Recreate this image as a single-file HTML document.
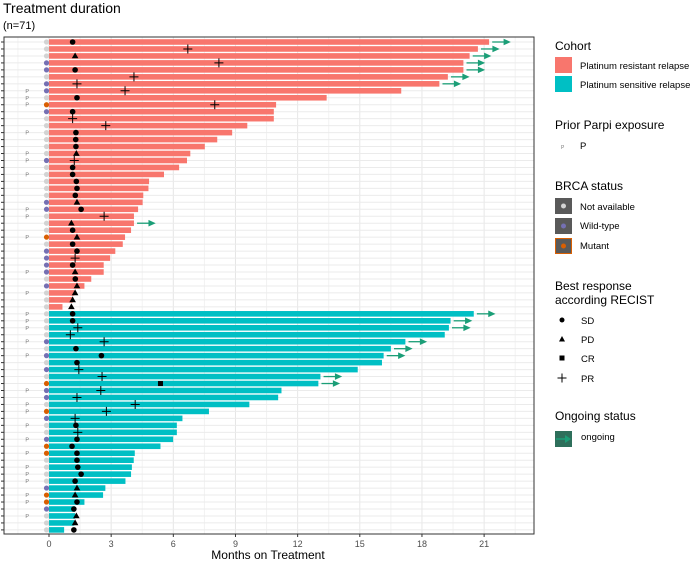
<!DOCTYPE html>
<html><head><meta charset="utf-8"><style>
body{margin:0;background:#fff;font-family:"Liberation Sans",Arial,sans-serif;}
svg text{font-family:"Liberation Sans",Arial,sans-serif;}
</style></head><body>
<svg id="chart" width="700" height="563" xmlns="http://www.w3.org/2000/svg">
<text x="3" y="13" font-size="14" fill="#000">Treatment duration</text>
<text x="3" y="29" font-size="11" fill="#000">(n=71)</text>
<g id="grid"></g>
<g id="bars"></g>
<g id="marks"></g>
<rect x="4" y="37" width="530" height="497" fill="none" stroke="#333" stroke-width="1"/>
<g id="axis"></g>
<text x="268" y="559" font-size="12" text-anchor="middle" fill="#000">Months on Treatment</text>
<g font-size="9.5" fill="#000">
<text x="555" y="50" font-size="12">Cohort</text>
<rect x="555" y="57" width="17" height="16" fill="#F8766D"/>
<text x="580" y="69">Platinum resistant relapse</text>
<rect x="555" y="76" width="17" height="16" fill="#00BFC4"/>
<text x="580" y="88">Platinum sensitive relapse</text>
<text x="555" y="129" font-size="12">Prior Parpi exposure</text>
<text x="561" y="149" font-size="5" fill="#777">P</text>
<text x="580" y="149">P</text>
<text x="555" y="190" font-size="12">BRCA status</text>
<rect x="555" y="198" width="17" height="16" fill="#595959"/>
<circle cx="563.5" cy="206" r="2.5" fill="#d3d3d3"/>
<text x="580" y="210">Not available</text>
<rect x="555" y="218" width="17" height="16" fill="#595959"/>
<circle cx="563.5" cy="226" r="2.5" fill="#7570B3"/>
<text x="580" y="229">Wild-type</text>
<rect x="555.5" y="238.5" width="16" height="15" fill="#595959" stroke="#D95F02"/>
<circle cx="563.5" cy="246" r="2.5" fill="#D95F02"/>
<text x="580" y="249">Mutant</text>
<text x="555" y="290" font-size="12">Best response</text>
<text x="555" y="304" font-size="12">according RECIST</text>
<circle cx="562" cy="320" r="2.5" fill="#000"/>
<text x="581" y="324">SD</text>
<polygon points="562,336 565,341.5 559,341.5" fill="#000"/>
<text x="581" y="343">PD</text>
<rect x="559.5" y="355.5" width="5" height="5" fill="#000"/>
<text x="581" y="362">CR</text>
<path d="M557.5 378 H566.5 M562 373.5 V382.5" stroke="#000" stroke-width="1"/>
<text x="581" y="382">PR</text>
<text x="555" y="420" font-size="12">Ongoing status</text>
<rect x="555" y="431" width="17" height="16" fill="#2E6F5B"/>
<path d="M556 439 H566" stroke="#1B9E77" stroke-width="1.5"/>
<polygon points="565,435 571,439 565,443" fill="#1B9E77"/>
<text x="581" y="440">ongoing</text>
</g>
</svg>
<script>
const durations=[21.24,20.7,20.3,20.0,20.0,19.25,18.84,17.0,13.4,10.96,10.85,10.85,9.57,8.84,8.12,7.52,6.82,6.66,6.28,5.55,4.83,4.8,4.55,4.52,4.3,4.1,4.1,3.96,3.67,3.56,3.2,2.95,2.64,2.64,2.04,1.71,1.22,1.14,0.65,
20.5,19.38,19.3,19.1,17.2,16.5,16.15,16.07,14.9,13.1,13.0,11.22,11.06,9.67,7.72,6.44,6.17,6.17,5.99,5.38,4.14,4.09,4.0,3.96,3.69,2.72,2.61,1.71,1.26,1.26,1.22,0.73];
const cohort=[].concat(Array(39).fill("R"),Array(32).fill("S"));
const brca=["N","N","N","W","W","N","W","W","N","M","W","N","N","N","N","N","N","W","N","N","N","N","N","W","W","N","N","N","M","N","W","W","W","W","N","W","N","N","N",
"N","N","N","N","W","N","W","N","W","N","M","W","W","N","M","W","N","N","W","M","M","N","N","N","N","W","M","M","W","N","N","N"];
const parpi=[0,0,0,0,0,0,0,1,1,1,0,0,0,1,0,0,1,1,0,1,0,0,0,0,1,1,0,0,1,0,0,0,0,1,0,0,1,0,0,
1,1,1,0,1,0,1,0,0,0,0,1,0,1,1,0,1,0,1,0,1,0,1,1,1,0,1,1,0,1,0,0];
const response=["SD","PR","PD","PR","SD","PR","PR","PR","SD","PR","SD","PR","PR","SD","SD","SD","PD","PR","SD","SD","SD","SD","SD","PD","SD","PR","PD","SD","PD","SD","SD","PR","SD","PD","SD","PD","PD","PD","PD",
"SD","SD","PR","PR","PR","SD","SD","SD","PR","PR","CR","PR","PR","PR","PR","PR","SD","PR","SD","SD","SD","SD","SD","SD","SD","PD","PD","SD","SD","PD","PD","SD"];
const respTime=[1.14,6.7,1.26,8.2,1.26,4.1,1.35,3.67,1.35,8.0,1.14,1.14,2.74,1.3,1.29,1.3,1.32,1.22,1.14,1.14,1.32,1.35,1.27,1.35,1.55,2.66,1.08,1.14,1.35,1.14,1.35,1.26,1.14,1.26,1.27,1.35,1.26,1.14,1.08,
1.14,1.14,1.39,1.03,2.66,1.3,2.53,1.35,1.44,2.56,5.38,2.5,1.35,4.16,2.77,1.26,1.3,1.39,1.35,1.11,1.35,1.35,1.39,1.55,1.26,1.35,1.26,1.35,1.2,1.32,1.26,1.2];
const ongoing=[1,1,1,1,1,1,1,0,0,0,0,0,0,0,0,0,0,0,0,0,0,0,0,0,0,0,1,0,0,0,0,0,0,0,0,0,0,0,0,
1,1,1,0,1,1,1,0,0,1,1,0,0,0,0,0,0,0,0,0,0,0,0,0,0,0,0,0,0,0,0,0];
const xTicks=[0,3,6,9,12,15,18,21];

const NS="http://www.w3.org/2000/svg";
const X=m=>49+m*20.72;
const Y=i=>42+i*6.97;
const cohortColor={R:"#F8766D",S:"#00BFC4"};
const brcaColor={N:"#d3d3d3",W:"#7570B3",M:"#D95F02"};
function mk(tag,attrs,parent){const e=document.createElementNS(NS,tag);for(const k in attrs)e.setAttribute(k,attrs[k]);parent.appendChild(e);return e;}
const grid=document.getElementById("grid"),bars=document.getElementById("bars"),marks=document.getElementById("marks"),axis=document.getElementById("axis");
for(let m=-1.5;X(m)<533;m+=1.5){
  const gl=mk("line",{x1:X(m),x2:X(m),y1:37,y2:534,stroke:(m%3===0)?"#e6e6e6":"#f2f2f2","stroke-width":1},grid);
  
  
}
durations.forEach((d,i)=>{
  const hl=mk("line",{x1:4,x2:534,y1:Y(i),y2:Y(i),stroke:"#ebebeb","stroke-width":1},grid);
  
  
  const tk=mk("line",{x1:1,x2:4,y1:Y(i),y2:Y(i),stroke:"#333","stroke-width":1},axis);
  
  
  const b=mk("rect",{x:X(0),y:Y(i)-2.8,width:X(d)-X(0),height:5.6,fill:cohortColor[cohort[i]]},bars);
  
  
  const c=mk("circle",{cx:X(-0.12),cy:Y(i),r:2.6,fill:brcaColor[brca[i]]},marks);
  
  
  if(parpi[i]){
    const p=mk("text",{x:X(-1.05),y:Y(i)+2,"font-size":5.5,fill:"#777","text-anchor":"middle"},marks);
    p.textContent="P";
    
    
  }
  const rx=X(respTime[i]),ry=Y(i);let r;
  if(response[i]==="SD") r=mk("circle",{cx:rx,cy:ry,r:2.8,fill:"#000"},marks);
  else if(response[i]==="PD") r=mk("polygon",{points:`${rx},${ry-3.5} ${rx+3.3},${ry+2.3} ${rx-3.3},${ry+2.3}`,fill:"#000"},marks);
  else if(response[i]==="CR") r=mk("rect",{x:rx-2.5,y:ry-2.5,width:5,height:5,fill:"#000"},marks);
  else r=mk("path",{d:`M${rx-4.5} ${ry} H${rx+4.5} M${rx} ${ry-4.5} V${ry+4.5}`,stroke:"#000","stroke-width":1},marks);
  
  
  if(ongoing[i]){
    const g=mk("g",{},marks);
    
    
    mk("line",{x1:X(d+0.15),x2:X(d+0.75),y1:ry,y2:ry,stroke:"#1B9E77","stroke-width":1.3},g);
    mk("polygon",{points:`${X(d+0.7)},${ry-3.3} ${X(d+1.05)},${ry} ${X(d+0.7)},${ry+3.3}`,fill:"#1B9E77"},g);
  }
});
xTicks.forEach(t=>{
  const l=mk("line",{x1:X(t),x2:X(t),y1:534,y2:537,stroke:"#333"},axis);
  
  
  const tx=mk("text",{x:X(t),y:547,"font-size":9,fill:"#4d4d4d","text-anchor":"middle"},axis);
  tx.textContent=t;
  
  
});
</script>
</body></html>
